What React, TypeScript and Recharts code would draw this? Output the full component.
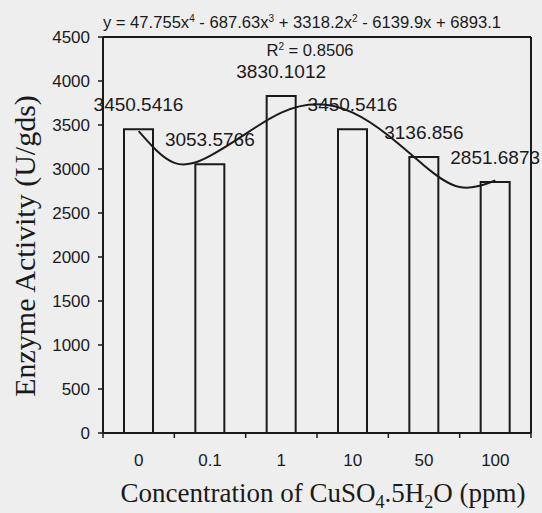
import {
  ComposedChart,
  Bar,
  Line,
  XAxis,
  YAxis,
  ReferenceLine,
  LabelList,
  Customized,
} from 'recharts';

// CuSO4.5H2O concentrations (ppm) and measured enzyme activity (U/gds)
const categories = ['0', '0.1', '1', '10', '50', '100'];
const activity = [3450.5416, 3053.5766, 3830.1012, 3450.5416, 3136.856, 2851.6873];
const yTicks = [0, 500, 1000, 1500, 2000, 2500, 3000, 3500, 4000, 4500];

// polynomial trendline at half-category steps
const trendX = [1, 1.5, 2, 2.5, 3, 3.5, 4, 4.5, 5, 5.5, 6];
const trendY = [3430, 3070, 3150, 3400, 3640, 3735, 3640, 3380, 3040, 2795, 2870];

const INK = '#1a1a1a';
const SANS = '"Liberation Sans", Arial, sans-serif';
const SERIF = '"Liberation Serif", "Times New Roman", serif';

const barData = categories.map((name, i) => ({ name, value: activity[i] }));
const trendData = trendX.map((x, i) => ({ x, trend: trendY[i] }));

function CategoryTick(props: any) {
  const { x, y, payload, index } = props;
  const half = payload?.offset ?? 35.7;
  return (
    <g>
      <line x1={x - half} y1={y} x2={x - half} y2={y + 5} stroke={INK} strokeWidth={1.5} />
      {index === categories.length - 1 && (
        <line x1={x + half} y1={y} x2={x + half} y2={y + 5} stroke={INK} strokeWidth={1.5} />
      )}
      <text x={x} y={y + 33} textAnchor="middle" fill={INK} fontSize={17} fontFamily={SANS}>
        {payload.value}
      </text>
    </g>
  );
}

function Annotations() {
  return (
    <g fill={INK}>
      {/* trendline equation */}
      <text x={302} y={28} textAnchor="middle" fontSize={16.6} fontFamily={SANS}>
        <tspan>y = 47.755x</tspan>
        <tspan dy={-6} fontSize={10}>4</tspan>
        <tspan dy={6}> - 687.63x</tspan>
        <tspan dy={-6} fontSize={10}>3</tspan>
        <tspan dy={6}> + 3318.2x</tspan>
        <tspan dy={-6} fontSize={10}>2</tspan>
        <tspan dy={6}> - 6139.9x + 6893.1</tspan>
      </text>
      <text x={310} y={56} textAnchor="middle" fontSize={16.6} fontFamily={SANS}>
        <tspan>R</tspan>
        <tspan dy={-6} fontSize={10}>2</tspan>
        <tspan dy={6}> = 0.8506</tspan>
      </text>
      {/* axis titles */}
      <text
        x={24}
        y={246}
        transform="rotate(-90 24 246)"
        textAnchor="middle"
        dominantBaseline="central"
        fontSize={30}
        fontFamily={SERIF}
      >
        Enzyme Activity (U/gds)
      </text>
      <text x={323} y={502} textAnchor="middle" fontSize={27} fontFamily={SERIF}>
        <tspan>Concentration of CuSO</tspan>
        <tspan dy={6} fontSize={18}>4</tspan>
        <tspan dy={-6}>.5H</tspan>
        <tspan dy={6} fontSize={18}>2</tspan>
        <tspan dy={-6}>O (ppm)</tspan>
      </text>
    </g>
  );
}

export default function App() {
  return (
    <div
      style={{
        position: 'absolute',
        top: 0,
        left: 0,
        width: 542,
        height: 513,
        background: '#eeeeee',
      }}
    >
      <ComposedChart
        width={542}
        height={513}
        data={barData}
        margin={{ top: 37, right: 11, bottom: 20, left: 0 }}
      >
        <XAxis
          xAxisId="cat"
          dataKey="name"
          height={60}
          axisLine={{ stroke: INK, strokeWidth: 2 }}
          tickLine={false}
          tickSize={0}
          tickMargin={0}
          tick={<CategoryTick />}
          interval={0}
        />
        <XAxis
          xAxisId="num"
          dataKey="x"
          type="number"
          domain={[0.5, 6.5]}
          allowDataOverflow
          hide
        />
        <YAxis
          width={103}
          domain={[0, 4500]}
          ticks={yTicks}
          interval={0}
          axisLine={{ stroke: INK, strokeWidth: 2 }}
          tickLine={{ stroke: INK, strokeWidth: 1.5 }}
          tickSize={5}
          tickMargin={8}
          tick={{ fill: INK, fontSize: 17, fontFamily: SANS }}
        />
        <ReferenceLine y={4500} xAxisId="cat" stroke={INK} strokeWidth={2} />
        <ReferenceLine x={6.5} xAxisId="num" stroke={INK} strokeWidth={2} />
        <Bar
          xAxisId="cat"
          dataKey="value"
          barSize={29}
          fill="none"
          stroke={INK}
          strokeWidth={2}
          isAnimationActive={false}
        >
          <LabelList
            dataKey="value"
            position="top"
            offset={18}
            fill={INK}
            fontSize={19}
            fontFamily={SANS}
          />
        </Bar>
        <Line
          xAxisId="num"
          data={trendData}
          dataKey="trend"
          type="natural"
          stroke={INK}
          strokeWidth={2}
          dot={false}
          isAnimationActive={false}
        />
        <Customized component={Annotations} />
      </ComposedChart>
    </div>
  );
}
